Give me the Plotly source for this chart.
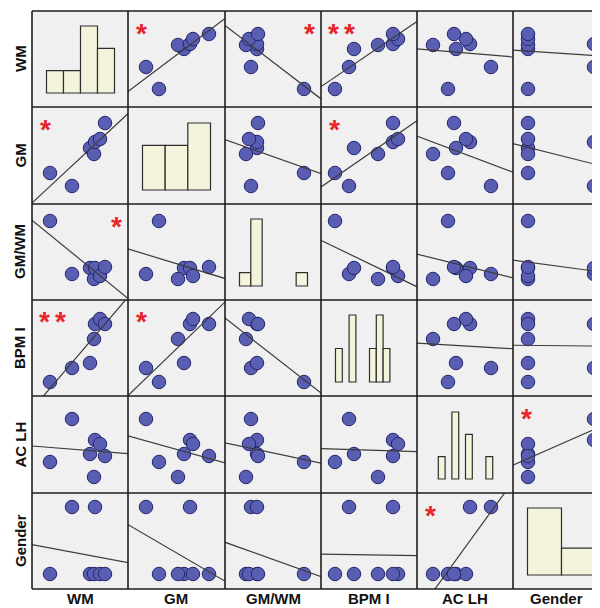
import numpy as np
import plotly.graph_objects as go

# ---------------- data (relative units) ----------------
NAMES = ["WM", "GM", "GM/WM", "BPM I", "AC LH", "Gender"]
WM = [18, 40, 58, 62, 63, 68, 73]
GM = [31, 18, 56, 50, 62, 65, 81]
GM_WM = [79, 26, 32, 21, 32, 24, 33]
BPM_I = [14, 28, 33, 57, 72, 77, 72]
AC_LH = [31, 74, 39, 16, 53, 49, 37]
GENDER = [1, 2, 1, 1, 2, 1, 1]

# histogram bin counts (diagonal cells)
HIST_WM = [1, 1, 3, 2]
HIST_GM = [2, 2, 3]
HIST_GM_WM = [1, 5, 0, 0, 0, 1]
HIST_BPM_I = [1, 0, 2, 0, 0, 1, 2, 1, 0, 0]
HIST_AC_LH = [0, 1, 0, 3, 0, 2, 0, 0, 1, 0]
HIST_GENDER = [5, 2]

# significance markers: (row, col, text)
SIG = [(0, 1, "*"), (0, 2, "*R"), (0, 3, "**"), (1, 0, "*"), (1, 3, "*"),
       (2, 0, "*R"), (3, 0, "**"), (3, 1, "*"), (4, 5, "*"), (5, 4, "*")]

VARS = [WM, GM, GM_WM, BPM_I, AC_LH, GENDER]
HISTS = [HIST_WM, HIST_GM, HIST_GM_WM, HIST_BPM_I, HIST_AC_LH, HIST_GENDER]

# ---------------- layout geometry (page pixels) ----------------
OFF = 8                      # default page body margin
W, H = 600 - OFF, 608 - OFF  # figure size so it fits the window
CB = [32, 128, 225, 321, 417, 513, 600]   # column borders (page px)
RB = [11, 107, 204, 300, 396, 493, 589]   # row borders (page px)
ML = CB[0] - OFF
MT = RB[0] - OFF
MB = 608 - RB[-1]
PW = CB[-1] - CB[0]
PH = RB[-1] - RB[0]


def X(px):
    return (px - CB[0]) / PW


def Y(py):
    return (RB[-1] - py) / PH


# scatter axis ranges per variable
X_RANGE = [[0, 96], [0, 97], [0, 96], [0, 96], [0, 96], [1 - 15 / 66, 1 + 72 / 66]]
Y_RANGE = [[0, 96], [0, 97], [0, 96], [0, 96], [0, 97], [1 - 15 / 67, 1 + 81 / 67]]

BG = "#f0f0f0"
PT_FILL = "#5a5eb2"
PT_LINE = "#23276a"
BAR_FILL = "#f4f4dd"
LINE_C = "#3c3c3c"

fig = go.Figure()
layout = dict(width=W, height=H, margin=dict(l=ML, r=0, t=MT, b=MB, pad=0),
              paper_bgcolor="white", plot_bgcolor=BG, showlegend=False)

for r in range(6):
    for c in range(6):
        k = r * 6 + c + 1
        xa, ya = ("x%d" % k if k > 1 else "x"), ("y%d" % k if k > 1 else "y")
        w = CB[c + 1] - CB[c]
        h = RB[r + 1] - RB[r]
        if r == c:
            counts = HISTS[c]
            n = len(counts)
            m = max(counts)
            ppb = 68.0 / n
            ppc = 67.0 / m
            xr = [-14.5 / ppb, (w - 14.5) / ppb]
            yr = [-14 / ppc, (h - 14) / ppc]
            bx = [i + 0.5 for i, v in enumerate(counts) if v > 0]
            by = [v for v in counts if v > 0]
            fig.add_trace(go.Bar(x=bx, y=by, width=1, xaxis=xa, yaxis=ya,
                                 marker=dict(color=BAR_FILL, line=dict(color="#2e2e2e", width=1.2)),
                                 hoverinfo="skip"))
        else:
            xr = X_RANGE[c]
            yr = Y_RANGE[r]
            xs = np.array(VARS[c], float)
            ys = np.array(VARS[r], float)
            fig.add_trace(go.Scatter(x=xs, y=ys, mode="markers", xaxis=xa, yaxis=ya,
                                     marker=dict(size=13.5, color=PT_FILL,
                                                 line=dict(color=PT_LINE, width=1)),
                                     hoverinfo="skip"))
            slope, icpt = np.polyfit(xs, ys, 1)
            span = xr[1] - xr[0]
            lx = np.array([xr[0] - span, xr[1] + span])
            fig.add_trace(go.Scatter(x=lx, y=slope * lx + icpt, mode="lines",
                                     xaxis=xa, yaxis=ya,
                                     line=dict(color=LINE_C, width=1.2),
                                     hoverinfo="skip"))
        ax = dict(showticklabels=False, showgrid=False, zeroline=False, showline=False,
                  ticks="", fixedrange=True)
        layout["xaxis%d" % k if k > 1 else "xaxis"] = dict(
            ax, domain=[X(CB[c]), X(CB[c + 1])], range=xr, anchor=ya)
        layout["yaxis%d" % k if k > 1 else "yaxis"] = dict(
            ax, domain=[Y(RB[r + 1]), Y(RB[r])], range=yr, anchor=xa)

# grid lines
shapes = []
for px in CB[:-1]:
    shapes.append(dict(type="line", xref="paper", yref="paper", x0=X(px), x1=X(px),
                       y0=Y(RB[0]), y1=Y(RB[-1]), line=dict(color="#1e1e1e", width=1.6)))
for py in RB:
    shapes.append(dict(type="line", xref="paper", yref="paper", x0=X(CB[0]), x1=1,
                       y0=Y(py), y1=Y(py), line=dict(color="#1e1e1e", width=1.6)))
layout["shapes"] = shapes

ann = []
FONT = "Liberation Sans, Arial, sans-serif"
for i, name in enumerate(NAMES):
    cx = (CB[i] + min(CB[i + 1], CB[i] + 96)) / 2
    ann.append(dict(text="<b>%s</b>" % name, x=X(cx), y=Y(608), xref="paper", yref="paper",
                    showarrow=False, xanchor="center", yanchor="bottom", borderpad=0,
                    font=dict(family=FONT, size=15, color="#111")))
    cy = (RB[i] + RB[i + 1]) / 2
    ann.append(dict(text="<b>%s</b>" % name, x=X(20), y=Y(cy), xref="paper", yref="paper",
                    showarrow=False, textangle=-90, xanchor="center", yanchor="middle",
                    font=dict(family=FONT, size=15, color="#111")))

for (r, c, t) in SIG:
    if t.endswith("R"):
        centers = [CB[c + 1] - 12]
    elif t == "**":
        centers = [CB[c] + 12, CB[c] + 28]
    else:
        centers = [CB[c] + 13]
    for cxp in centers:
        ann.append(dict(text="<b>*</b>", x=X(cxp), y=Y(RB[r] + 17 + 5), xref="paper", yref="paper",
                        showarrow=False, xanchor="center", yanchor="middle", borderpad=0,
                        font=dict(family=FONT, size=28, color="#e8262c")))
layout["annotations"] = ann

fig.update_layout(**layout)
fig.write_html("out.html")
